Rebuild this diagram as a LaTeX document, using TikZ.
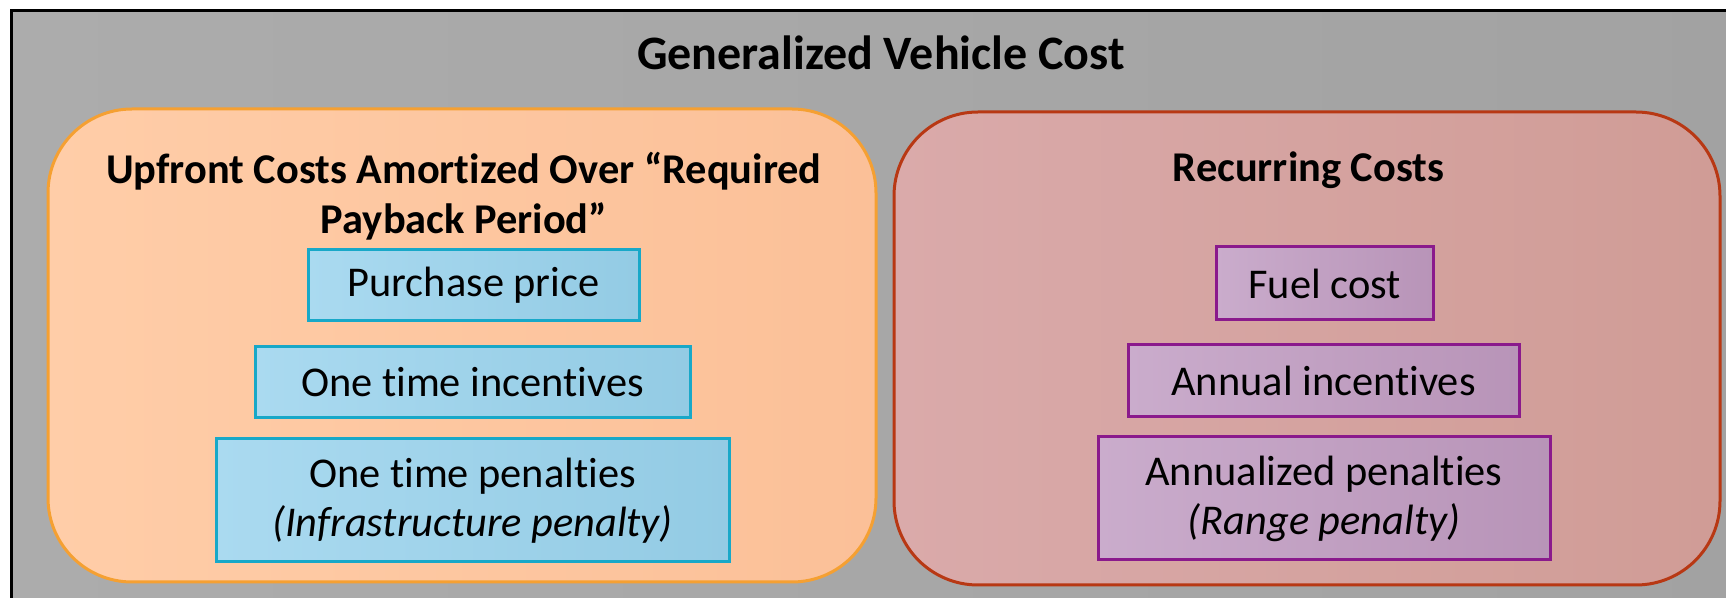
\documentclass[tikz,border=0pt]{standalone}
\usepackage{fontspec}
\setmainfont{Carlito}[Ligatures={NoCommon}]
\usepackage{tikz,xcolor}
\usetikzlibrary{positioning}

\begin{document}
\begin{tikzpicture}[x=0.5pt, y=-0.5pt]

\definecolor{framegray}{RGB}{172,172,172}
\definecolor{framegraydark}{RGB}{162,162,162}
\definecolor{peach}{RGB}{255,205,168}
\definecolor{peachdark}{RGB}{251,192,152}
\definecolor{peachline}{RGB}{245,160,50}
\definecolor{rose}{RGB}{218,170,170}
\definecolor{rosedark}{RGB}{208,156,150}
\definecolor{roseline}{RGB}{184,56,20}
\definecolor{sky}{RGB}{170,218,240}
\definecolor{skydark}{RGB}{147,203,228}
\definecolor{skyline}{RGB}{24,168,200}
\definecolor{lilac}{RGB}{202,172,204}
\definecolor{lilacdark}{RGB}{184,148,184}
\definecolor{lilacline}{RGB}{138,26,140}

\tikzstyle{frame} = [rectangle, draw=black, line width=1.5pt, left color=framegray, right color=framegraydark, inner sep=0pt, outer sep=0pt]
\tikzstyle{panel} = [rectangle, rounded corners=42pt, line width=1.5pt, inner sep=0pt, outer sep=0pt, minimum width=413pt, minimum height=236.5pt]
\tikzstyle{upfront} = [panel, draw=peachline, left color=peach, right color=peachdark]
\tikzstyle{recurring} = [panel, draw=roseline, left color=rose, right color=rosedark]
\tikzstyle{heading} = [font=\fontsize{21.2}{25}\selectfont\bfseries, align=center, inner sep=0pt]
\tikzstyle{item} = [rectangle, line width=1.5pt, inner sep=0pt, outer sep=0pt, align=center, font=\fontsize{21.2}{24.5}\selectfont]
\tikzstyle{onetime} = [item, draw=skyline, left color=sky, right color=skydark]
\tikzstyle{annual} = [item, draw=lilacline, left color=lilac, right color=lilacdark]

\useasboundingbox (0,0) rectangle (1726,598);
\clip (0,0) rectangle (1726,598);

\node[frame, minimum width=874.5pt, minimum height=309.5pt] (frame) at (885.5,320.5) {};
\node[heading, font=\fontsize{24}{28}\selectfont\bfseries, anchor=base] (title) at (881,70) {Generalized Vehicle Cost};

\node[upfront, minimum width=414pt] (U) at (462,345.5) {};
\node[recurring] (R) at (1307,348.5) {};

\node[heading] (Utitle) at (464,196) {Upfront Costs Amortized Over “Required\\Payback Period”};
\node[heading, anchor=base] (Rtitle) at (1308.5,182) {Recurring Costs};

\node[onetime, minimum width=165.5pt, minimum height=35.5pt] (U1) at (473.5,285.5) {Purchase price};
\node[onetime, minimum width=217.5pt, minimum height=35.5pt] (U2) at (472.5,382.5) {One time incentives};
\node[onetime, minimum width=256.5pt, minimum height=61.5pt] (U3) at (472.5,500.5) {One time penalties\\\textit{(Infrastructure penalty)}};

\node[annual, minimum width=108.5pt, minimum height=36.5pt] (R1) at (1324.5,283.5) {Fuel cost};
\node[annual, minimum width=195.5pt, minimum height=36pt] (R2) at (1323.5,381) {Annual incentives};
\node[annual, minimum width=226pt, minimum height=61.5pt] (R3) at (1324,498.5) {Annualized penalties\\\textit{(Range penalty)}};

\end{tikzpicture}
\end{document}
